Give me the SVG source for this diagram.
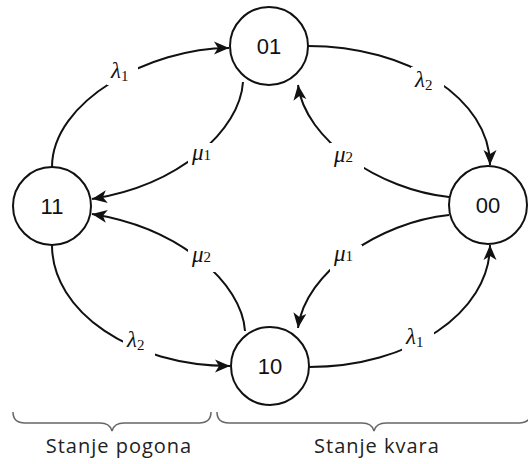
<svg xmlns="http://www.w3.org/2000/svg" width="528" height="464" viewBox="0 0 528 464">
  <style>
    .node circle { fill: #fff; stroke: #111; stroke-width: 2; }
    .node text { font-family: "Liberation Sans", Arial, sans-serif; font-size: 22px; fill: #111; text-anchor: middle; }
    .edge { fill: none; stroke: #111; stroke-width: 2; marker-end: url(#arrow); }
    .gap { fill: #fff; stroke: none; }
    .lbl { font-family: "Liberation Serif", "Times New Roman", serif; font-size: 23px; font-style: italic; fill: #111; }
    .sub { font-size: 15px; font-style: normal; }
    .brace { fill: none; stroke: #666; stroke-width: 1.5; }
    .cap { font-family: "Open Sans", "Noto Sans", sans-serif; font-size: 20px; fill: #222; text-anchor: middle; letter-spacing: 1px; }
  </style>
  <defs>
    <marker id="arrow" markerUnits="userSpaceOnUse" markerWidth="16" markerHeight="14" viewBox="0 0 16 14" refX="15" refY="7" orient="auto">
      <path d="M0,0.5 L15,7 L0,13.5 L4,7 Z" fill="#111"/>
    </marker>
  </defs>
  <rect width="528" height="464" fill="#fff"/>
  <g id="connectors">
    <path id="e-11-01" class="edge" d="M52,167 C52,101 150,48 229,48"/>
    <path id="e-01-11" class="edge" d="M243,82 C240,130 180,185 92,199"/>
    <path id="e-10-11" class="edge" d="M245,331 C242,283 180,228 92,214"/>
    <path id="e-11-10" class="edge" d="M52,245 C52,312 132,366 230,366"/>
    <path id="e-01-00" class="edge" d="M308,46 C408,46 490,99 490,165"/>
    <path id="e-00-01" class="edge" d="M449,197 C380,190 305,140 298,85"/>
    <path id="e-00-10" class="edge" d="M449,215 C380,222 305,272 298,328"/>
    <path id="e-10-00" class="edge" d="M309,367 C409,367 490,313 490,245"/>
  </g>
  <g id="labels">
    <rect class="gap" x="107" y="59" width="31" height="26"/>
    <text class="lbl" x="111" y="78">λ<tspan class="sub" dy="3">1</tspan></text>
    <rect class="gap" x="188" y="143" width="32" height="26"/>
    <text class="lbl" x="192" y="160">μ<tspan class="sub">1</tspan></text>
    <rect class="gap" x="330" y="143" width="34" height="28"/>
    <text class="lbl" x="334" y="162">μ<tspan class="sub">2</tspan></text>
    <rect class="gap" x="188" y="245" width="32" height="27"/>
    <text class="lbl" x="192" y="262">μ<tspan class="sub">2</tspan></text>
    <rect class="gap" x="330" y="245" width="32" height="27"/>
    <text class="lbl" x="334" y="261">μ<tspan class="sub">1</tspan></text>
    <rect class="gap" x="411" y="67" width="33" height="28"/>
    <text class="lbl" x="415" y="87">λ<tspan class="sub" dy="3">2</tspan></text>
    <rect class="gap" x="123" y="328" width="32" height="29"/>
    <text class="lbl" x="127" y="347">λ<tspan class="sub" dy="3">2</tspan></text>
    <rect class="gap" x="402" y="324" width="32" height="27"/>
    <text class="lbl" x="406" y="344">λ<tspan class="sub" dy="3">1</tspan></text>
  </g>
  <g id="node-01" class="node">
    <circle cx="269" cy="46" r="39"/>
    <text x="269" y="54">01</text>
  </g>
  <g id="node-11" class="node">
    <circle cx="52" cy="206" r="39"/>
    <text x="52" y="214">11</text>
  </g>
  <g id="node-00" class="node">
    <circle cx="488" cy="205" r="39"/>
    <text x="488" y="213">00</text>
  </g>
  <g id="node-10" class="node">
    <circle cx="270" cy="366" r="39"/>
    <text x="270" y="374">10</text>
  </g>
  <g id="braces">
    <path class="brace" d="M13,412 Q13,423 25,423 L100,423 Q110,423 112,431 Q114,423 124,423 L199,423 Q211,423 211,412"/>
    <path class="brace" d="M217,412 Q217,423 229,423 L362,423 Q372,423 374,431 Q376,423 386,423 L519,423 Q531,423 531,412"/>
    <text class="cap" x="119" y="453">Stanje pogona</text>
    <text class="cap" x="377" y="453">Stanje kvara</text>
  </g>
</svg>
